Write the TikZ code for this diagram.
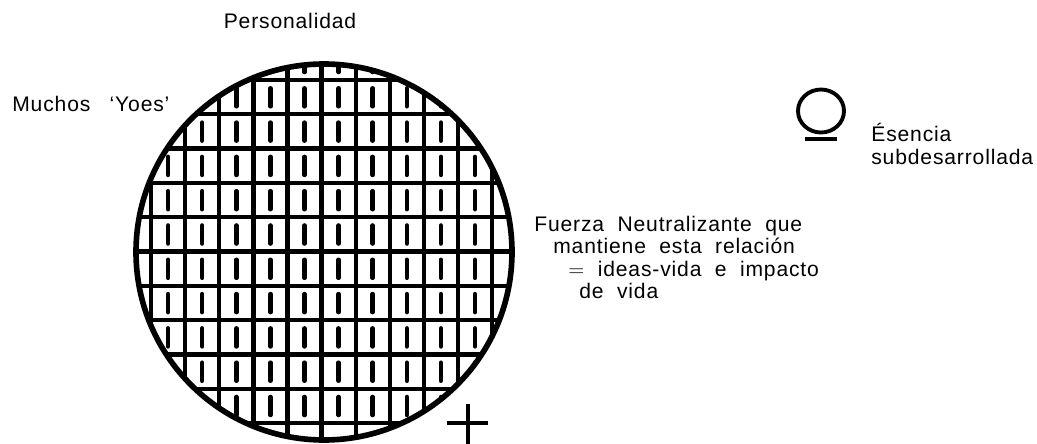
\documentclass[tikz,border=0pt]{standalone}
\usepackage{fontspec}
\setmainfont{Liberation Sans}[LetterSpace=4]
\tikzset{%
    rim/.style={line width = 3.2pt},
    grd/.style={line width = 2.4pt},
    yo/.style={line width = 2.6pt, line cap=round},
    ess/.style={line width = 2.2pt},
    lab/.style={inner sep=0pt, font=\fontsize{12}{14}\selectfont},
}

\begin{document}
\begin{tikzpicture}[x=0.02cm, y=-0.02cm]
    \useasboundingbox (0,0) rectangle (1037,443);
    \coordinate (O) at (324,252);
    \coordinate (E) at (821,111);
    % personalidad: many I's in a grid
    \begin{scope}
        \clip (O) circle [radius=188];
        \foreach \k in {0,...,11}{
            \draw [grd] (117+34.1*\k,40)--(117+34.1*\k,460);
            \draw [grd] (120,45.7+34.3*\k)--(530,45.7+34.3*\k);
        }
        \foreach \i in {0,...,10}
            \foreach \j in {0,...,10}
                \draw [yo] (134+34.1*\i,54+34.3*\j)--(134+34.1*\i,72+34.3*\j);
    \end{scope}
    \draw [rim] (O) circle [radius=188];
    % esencia
    \draw [ess] (E) ellipse [x radius=23, y radius=21.5];
    \draw [line width = 2.3pt] (E)+(-16,28)--+(16,28);
    \draw [line width = 2.3pt] (447,423)--(488,423) (468,404)--(468,446);
    \node [lab, anchor=base] (pers) at (290,28) {Personalidad};
    \node [lab, anchor=base west] (yoes) at (12,111) {Muchos\hspace{11pt}`Yoes'};
    \node [lab, anchor=base west] (esen) at (871,141) {Ésencia};
    \node [lab, anchor=base west] (subd) at (871,164) {subdesarrollada};
    \node [lab, anchor=base west] (fuer) at (534,231) {Fuerza\ \ Neutralizante\ \ que};
    \node [lab, anchor=base west] (mant) at (553,253) {mantiene\ \ esta\ \ relación};
    \node [lab, anchor=base west] (idea) at (568,276) {$=$\ \ ideas-vida\ \ e\ \ impacto};
    \node [lab, anchor=base west] (devi) at (579,298) {de\ \ vida};
\end{tikzpicture}
\end{document}
